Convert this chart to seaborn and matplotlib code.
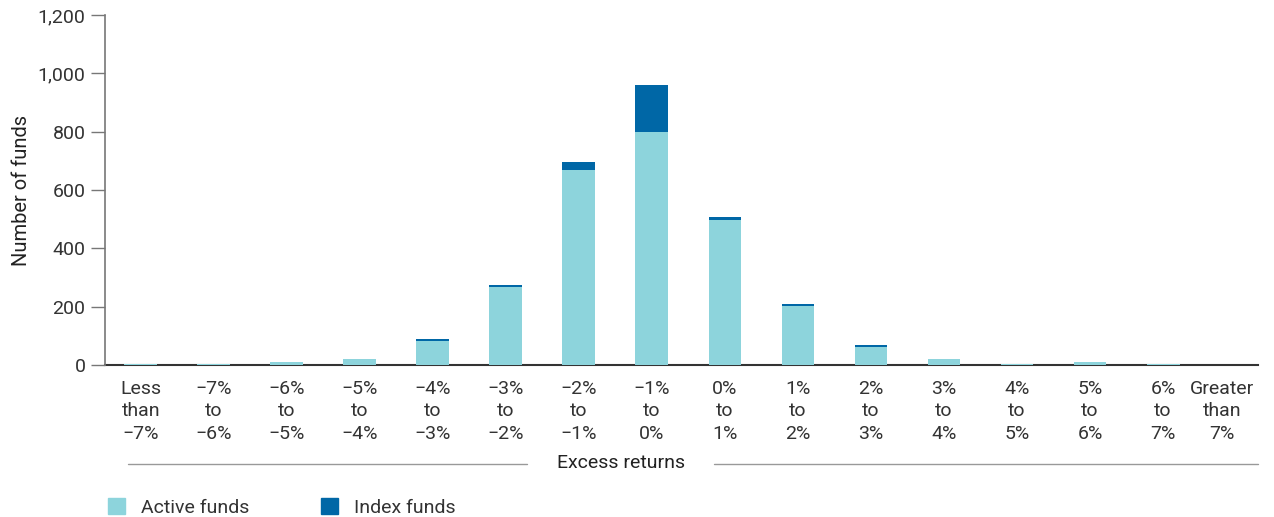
import numpy as np
import pandas as pd
import matplotlib
matplotlib.use("Agg")
import matplotlib.pyplot as plt
import matplotlib.transforms as mtrans
import seaborn as sns
from matplotlib.lines import Line2D
from matplotlib.patches import Patch

# Excess return buckets and fund counts
categories = ["Less\nthan\n\u22127%", "\u22127%\nto\n\u22126%", "\u22126%\nto\n\u22125%",
              "\u22125%\nto\n\u22124%", "\u22124%\nto\n\u22123%", "\u22123%\nto\n\u22122%",
              "\u22122%\nto\n\u22121%", "\u22121%\nto\n0%", "0%\nto\n1%", "1%\nto\n2%",
              "2%\nto\n3%", "3%\nto\n4%", "4%\nto\n5%", "5%\nto\n6%", "6%\nto\n7%",
              "Greater\nthan\n7%"]
active = [5, 5, 10, 20, 84, 268, 670, 800, 498, 202, 63, 20, 5, 10, 5, 0]
index = [0, 0, 0, 0, 5, 6, 25, 160, 10, 7, 6, 0, 0, 0, 0, 0]

df = pd.DataFrame({"bucket": categories, "active": active, "index": index})
df["total"] = df["active"] + df["index"]

active_col = "#8DD4DC"
index_col = "#0067A6"

sns.set_style("white")
plt.rcParams["font.family"] = ["Roboto", "DejaVu Sans"]

fig = plt.figure(figsize=(12.74, 5.17), dpi=100)
ax = fig.add_axes([105 / 1274, 1 - 365 / 517, (1258 - 105) / 1274, 350 / 517])

sns.barplot(data=df, x="bucket", y="total", color=index_col, width=0.45,
            saturation=1, ax=ax, edgecolor="none")
sns.barplot(data=df, x="bucket", y="active", color=active_col, width=0.45,
            saturation=1, ax=ax, edgecolor="none")

ax.set_ylim(0, 1200)
ax.set_xlim(-0.49, 15.3)
ax.set_yticks(range(0, 1201, 200))
ax.set_yticklabels([f"{v:,}" for v in range(0, 1201, 200)])
ax.set_xlabel("")
ax.set_ylabel("Number of funds", fontsize=14.5, color="#222222", labelpad=5)

for s in ["top", "right"]:
    ax.spines[s].set_visible(False)
ax.spines["left"].set_color("#777777")
ax.spines["left"].set_linewidth(1.2)
ax.spines["bottom"].set_color("#333333")
ax.spines["bottom"].set_linewidth(1.5)
ax.spines["bottom"].set_zorder(0.5)  # let the tiny bars show over the baseline

ax.tick_params(axis="y", length=10, width=1, color="#777777", labelsize=14,
               labelcolor="#333333", pad=4, left=True)
ax.tick_params(axis="x", length=0, labelsize=14, labelcolor="#333333", pad=11)
for lab in ax.get_xticklabels():
    lab.set_linespacing(1.3)
# last label sits a bit left of its bar in the original
last = ax.get_xticklabels()[-1]
last.set_transform(last.get_transform() + mtrans.ScaledTranslation(-0.14, 0, fig.dpi_scale_trans))

# axis title with rules either side
fig.text(621 / 1274, 1 - 463 / 517, "Excess returns", ha="center", va="center",
         fontsize=14, color="#222222")
yl = 1 - 464 / 517
fig.add_artist(Line2D([128 / 1274, 527 / 1274], [yl, yl], color="#999999", lw=1))
fig.add_artist(Line2D([714 / 1274, 1258 / 1274], [yl, yl], color="#999999", lw=1))

handles = [Patch(color=active_col, label="Active funds"),
           Patch(color=index_col, label="Index funds")]
fig.legend(handles=handles, loc="lower left", bbox_to_anchor=(90 / 1274, -0.034),
           ncol=2, frameon=False, fontsize=14, handlelength=0.9, handleheight=0.9,
           handletextpad=0.8, columnspacing=3.7, labelcolor="#333333")

fig.savefig("out.png", dpi=100)
